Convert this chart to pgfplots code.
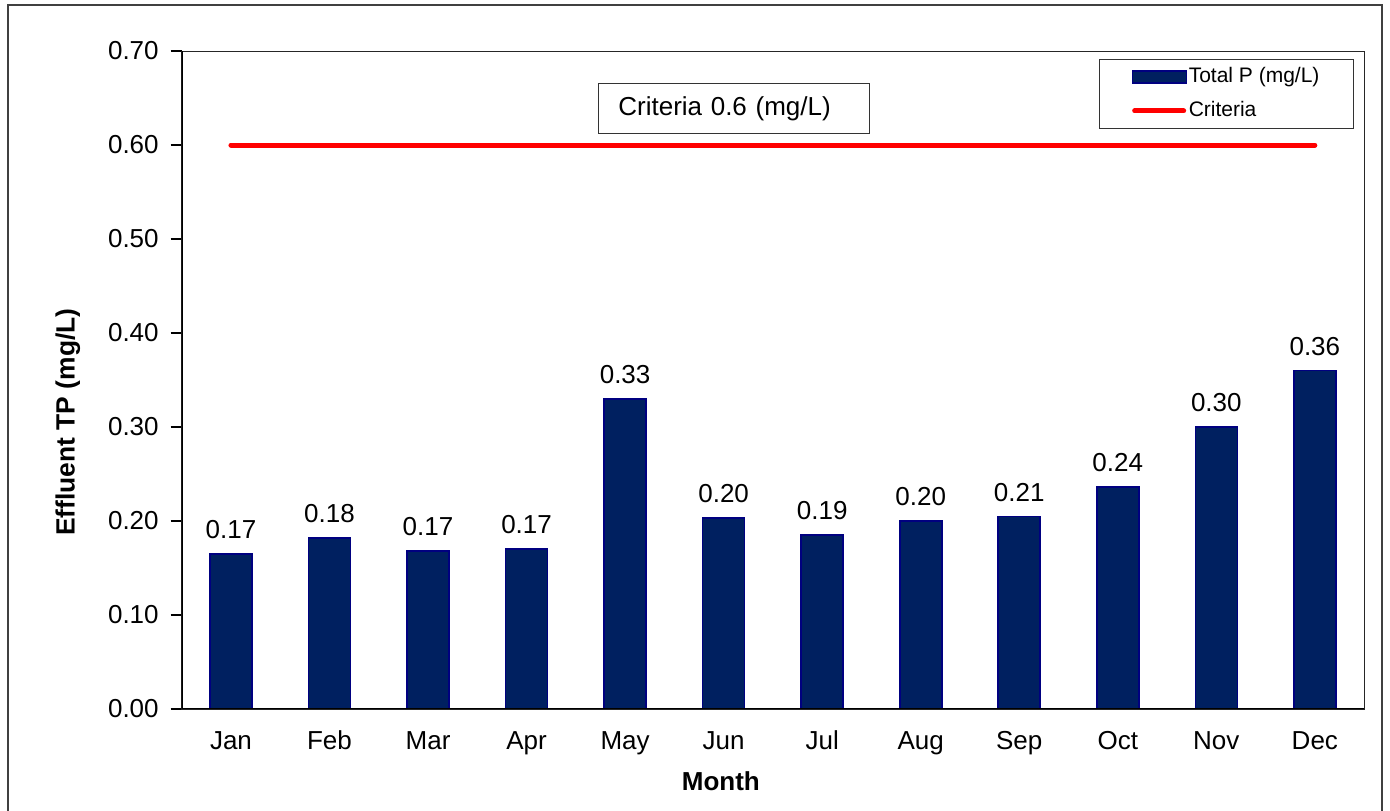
\documentclass[border=0pt]{standalone}
\usepackage{pgfplots}
\pgfplotsset{compat=1.18}
\usepackage{pgfplotstable}
\usepackage{fontspec}
\setmainfont{Liberation Sans}
\definecolor{barfill}{RGB}{0,32,96}
\definecolor{baredge}{RGB}{0,0,128}
\definecolor{crit}{RGB}{255,0,0}

\pgfplotstableread{
x y lab
0 0.165 0.17
1 0.182 0.18
2 0.168 0.17
3 0.170 0.17
4 0.330 0.33
5 0.203 0.20
6 0.185 0.19
7 0.200 0.20
8 0.205 0.21
9 0.236 0.24
10 0.300 0.30
11 0.360 0.36
}\tpdata

\begin{document}
\begin{tikzpicture}
\path[use as bounding box] (0bp,0bp) rectangle (695bp,405.5bp);
\draw[black!75, line width=0.75bp] (4bp,-2bp) -- (4bp,403bp) -- (691bp,403bp) -- (691bp,-2bp);
\begin{axis}[
  at={(90.85bp,51bp)}, anchor=south west,
  width=591.2bp, height=329bp, scale only axis,
  xmin=-0.5, xmax=11.5, ymin=0, ymax=0.7,
  xtick={0,1,2,3,4,5,6,7,8,9,10,11},
  xticklabels={Jan,Feb,Mar,Apr,May,Jun,Jul,Aug,Sep,Oct,Nov,Dec},
  ytick={0,0.1,0.2,0.3,0.4,0.5,0.6,0.7},
  yticklabel style={/pgf/number format/fixed, /pgf/number format/fixed zerofill, /pgf/number format/precision=2, xshift=-2.5bp},
  /pgf/number format/assume math mode=true,
  tick align=outside, major tick length=5.5bp, tick pos=left,
  xtick style={draw=none},
  ytick style={black, line width=0.75bp},
  tick label style={font=\fontsize{13bp}{15bp}\selectfont},
  xticklabel style={text height=9.4bp, text depth=0bp, yshift=-1.7bp},
  axis line style={draw=black!85, line width=0.5bp},
  xlabel={Month}, ylabel={Effluent TP (mg/L)},
  xlabel style={at={(axis description cs:0.456,-0.109)}, anchor=center, font=\bfseries\fontsize{13bp}{15bp}\selectfont},
  ylabel style={at={(axis description cs:-0.0962,0.436)}, anchor=center, font=\bfseries\fontsize{13.2bp}{15bp}\selectfont},
  legend cell align=left,
  legend style={at={(rel axis cs:0.9915,0.988)}, anchor=north east, draw=black!80, line width=0.6bp,
    font=\fontsize{10.5bp}{12bp}\selectfont, inner xsep=16bp, inner ysep=2.5bp, row sep=4.5bp,
    nodes={inner sep=1bp, text height=8bp, text depth=2.5bp}},
]
\addplot[ybar, bar width=21bp, fill=barfill, draw=baredge, line width=0.8bp,
  nodes near coords, point meta=explicit symbolic,
  nodes near coords style={font=\fontsize{13bp}{15bp}\selectfont, anchor=south, yshift=3.8bp, black},
  legend image code/.code={\draw[fill=barfill, draw=baredge, line width=0.6bp] (-1bp,-3bp) rectangle (26bp,3bp);}]
  table[x=x, y=y, meta=lab]{\tpdata};
\addlegendentry{Total P (mg/L)}
\addplot[crit, line width=2.5bp, line cap=round, no markers,
  legend image code/.code={\draw[crit, line width=2.5bp, line cap=round] (0.25bp,0bp) -- (24.75bp,0bp);}]
  coordinates {(0,0.6) (11,0.6)};
\addlegendentry{Criteria}
\draw[black, line width=1bp] (rel axis cs:0,1) -- (rel axis cs:0,0) -- (rel axis cs:1,0);
\node[draw=black!80, line width=0.6bp, minimum width=135.5bp, minimum height=25bp, inner xsep=10bp,
  text width=115.5bp, align=left, font=\fontsize{13bp}{15bp}\selectfont]
  at (rel axis cs:0.467,0.9126) {Criteria 0.6 (mg/L)};
\end{axis}
\end{tikzpicture}
\end{document}
